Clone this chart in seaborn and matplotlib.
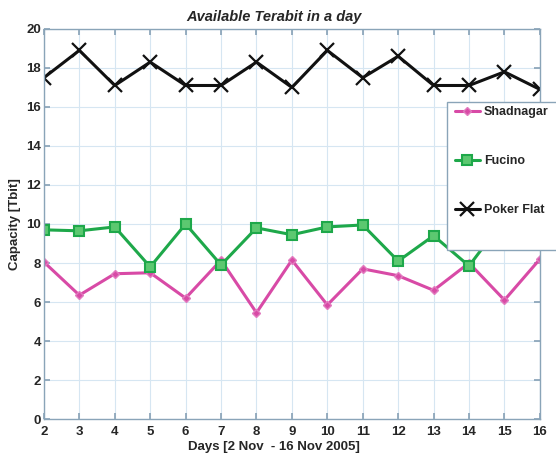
import matplotlib
matplotlib.use("Agg")
import matplotlib.pyplot as plt
from matplotlib.patches import Rectangle
import seaborn as sns
import pandas as pd

days = list(range(2, 17))
shadnagar = [8.05, 6.35, 7.45, 7.5, 6.2, 8.15, 5.45, 8.15, 5.85, 7.7, 7.35, 6.6, 8.0, 6.1, 8.2]
fucino = [9.7, 9.65, 9.85, 7.8, 10.0, 7.9, 9.8, 9.45, 9.85, 9.95, 8.1, 9.4, 7.85, 10.25, 9.8]
poker_flat = [17.5, 18.9, 17.1, 18.3, 17.1, 17.1, 18.3, 17.0, 18.9, 17.5, 18.6, 17.1, 17.1, 17.8, 16.9]

series_names = ["Shadnagar", "Fucino", "Poker Flat"]
series_vals = [shadnagar, fucino, poker_flat]

sns.set_theme(style="whitegrid")
plt.rcParams["font.family"] = ["Liberation Sans", "DejaVu Sans"]

fig = plt.figure(figsize=(5.56, 4.59), dpi=100)
ax = fig.add_axes([0.079, 0.087, 0.892, 0.85])

styles = {
    "Shadnagar": dict(color="#d84aa6", marker="D", markersize=4, mfc="#d84aa6", mec="#e27cbf"),
    "Fucino": dict(color="#1ea84a", marker="s", markersize=7, mfc="#5cc870", mec="#1ea84a", mew=1.5),
    "Poker Flat": dict(color="#111111", marker="x", markersize=10, mew=1.6),
}

for name, vals in zip(series_names, series_vals):
    df = pd.DataFrame({"Day": days, "Capacity": vals})
    st = styles[name]
    sns.lineplot(data=df, x="Day", y="Capacity", ax=ax, color=st["color"], lw=2.2,
                 marker=st["marker"], markersize=st["markersize"],
                 markerfacecolor=st.get("mfc", st["color"]),
                 markeredgecolor=st.get("mec", st["color"]),
                 markeredgewidth=st.get("mew", 1.0), label=name)

ax.set_xlim(2, 16)
ax.set_ylim(0, 20)
ax.set_xticks(days)
ax.set_yticks(range(0, 21, 2))
ax.grid(True, color="#d6e6f2", lw=0.8)
ax.set_facecolor("white")
for sp in ax.spines.values():
    sp.set_color("#8aa4b8")
    sp.set_linewidth(1.0)
ax.tick_params(axis="both", labelsize=9.5, pad=2, length=4, direction="in",
               color="#8aa4b8", top=True, right=True, bottom=True, left=True)
ax.tick_params(axis="x", pad=5)
for lab in ax.get_xticklabels() + ax.get_yticklabels():
    lab.set_fontweight("bold")

ax.set_xlabel("Days [2 Nov  - 16 Nov 2005]", fontsize=9.5, fontweight="bold", labelpad=2, x=0.463)
ax.set_ylabel("Capacity [Tbit]", fontsize=9.5, fontweight="bold", labelpad=4)
ax.set_title("Available Terabit in a day", fontsize=10.5, fontweight="bold", style="italic",
             pad=6, x=0.464)

# legend box running off the right edge of the figure
box = Rectangle((0.804, 0.455), 0.25, 0.323, transform=fig.transFigure, clip_on=False,
                facecolor="white", edgecolor="#8aa4b8", lw=1.0, zorder=4)
ax.add_patch(box)
leg = ax.legend(loc="upper left", bbox_to_anchor=(0.810, 0.778), bbox_transform=fig.transFigure,
                borderaxespad=0, labelspacing=2.95, handlelength=2.0, handletextpad=0.35,
                borderpad=0.35, frameon=False, prop={"weight": "bold", "size": 9})
leg.set_zorder(5)

fig.savefig("out.png", dpi=100)
